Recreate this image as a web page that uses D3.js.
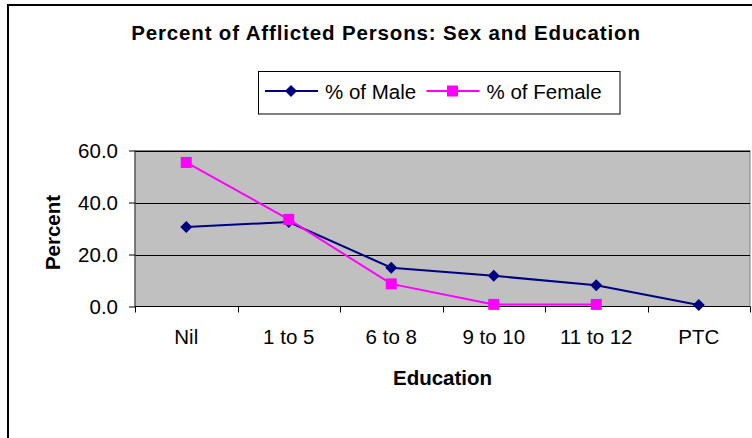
<!DOCTYPE html>
<html>
<head>
<meta charset="utf-8">
<script src="https://cdn.jsdelivr.net/npm/d3@7"></script>
<style>
  body { margin: 0; background: #fff; }
  text { font-family: "Liberation Sans", Arial, sans-serif; }
</style>
</head>
<body>
<div id="chart"></div>
<script>
const categories = ["Nil", "1 to 5", "6 to 8", "9 to 10", "11 to 12", "PTC"];
const maleValues = [30.6, 32.5, 14.9, 11.8, 8.2, 0.6];
const femaleValues = [55.4, 33.5, 8.7, 0.8, 0.8, null];
const yTicks = [0, 20, 40, 60];
const seriesNames = ["% of Male", "% of Female"];

const SIZE = { width: 752, height: 438 };
const PLOT = { left: 135, right: 750, top: 150.5, bottom: 306.5 };
const FONT = 20.5;

const svg = d3.select("#chart").append("svg")
    .attr("width", SIZE.width)
    .attr("height", SIZE.height);

// outer chart border, runs off the right and bottom
svg.append("rect")
    .attr("x", 8).attr("y", 5)
    .attr("width", 800).attr("height", 500)
    .attr("fill", "#fff")
    .attr("stroke", "#000")
    .attr("stroke-width", 2);

const x = d3.scaleBand().domain(categories).range([PLOT.left, PLOT.right]);
const y = d3.scaleLinear().domain([0, 60]).range([PLOT.bottom, PLOT.top]);
const cx = c => x(c) + x.bandwidth() / 2;

svg.append("rect")
    .attr("x", PLOT.left).attr("y", PLOT.top)
    .attr("width", PLOT.right - PLOT.left).attr("height", PLOT.bottom - PLOT.top)
    .attr("fill", "#c0c0c0")
    .attr("stroke", "#808080")
    .attr("stroke-width", 1);

// gridlines
svg.append("g").selectAll("line").data(yTicks.filter(d => d > 0)).enter()
  .append("line")
    .attr("x1", PLOT.left).attr("x2", PLOT.right)
    .attr("y1", d => Math.round(y(d)) + 0.5).attr("y2", d => Math.round(y(d)) + 0.5)
    .attr("stroke", "#000").attr("stroke-width", 1);

// y axis
const yAxis = d3.axisLeft(y).tickValues(yTicks).tickFormat(d3.format(".1f")).tickSize(6).tickPadding(11);
const yG = svg.append("g").attr("transform", `translate(${PLOT.left},0)`).call(yAxis);
yG.select(".domain").attr("stroke", "#404040").attr("d", `M0,${PLOT.top}V${PLOT.bottom}`);
yG.selectAll(".tick line").attr("stroke", "#000");
yG.selectAll("text").attr("font-size", FONT).attr("fill", "#000").attr("dy", "0.35em")
    .style("font-family", "'Liberation Sans', Arial, sans-serif");

// x axis with boundary ticks
const xG = svg.append("g").attr("transform", `translate(0,${PLOT.bottom})`);
xG.append("line").attr("x1", PLOT.left).attr("x2", PLOT.right).attr("stroke", "#000");
const bounds = categories.map(c => x(c)).concat([PLOT.right]);
xG.selectAll(".bt").data(bounds).enter().append("line")
    .attr("x1", d => Math.round(d) + 0.5).attr("x2", d => Math.round(d) + 0.5)
    .attr("y1", 0).attr("y2", 6)
    .attr("stroke", "#000");
xG.selectAll(".lbl").data(categories).enter().append("text")
    .attr("x", cx)
    .attr("y", 37.5)
    .attr("text-anchor", "middle")
    .attr("font-size", FONT)
    .text(d => d);

// axis titles
svg.append("text")
    .attr("x", (PLOT.left + PLOT.right) / 2).attr("y", 385)
    .attr("text-anchor", "middle")
    .attr("font-size", FONT).attr("font-weight", "bold")
    .text("Education");
svg.append("text")
    .attr("transform", `translate(60,232.5) rotate(-90)`)
    .attr("text-anchor", "middle")
    .attr("font-size", FONT).attr("font-weight", "bold")
    .text("Percent");

// title
svg.append("text")
    .attr("x", 386).attr("y", 40)
    .attr("text-anchor", "middle")
    .attr("font-size", FONT).attr("font-weight", "bold")
    .attr("letter-spacing", 0.85)
    .text("Percent of Afflicted Persons: Sex and Education");

// markers
const diamond = r => `M0,${-r}L${r},0L0,${r}L${-r},0Z`;
const square = h => `M${-h},${-h}H${h}V${h}H${-h}Z`;
const series = [
  { name: seriesNames[0], values: maleValues, color: "#000080", marker: diamond(6) },
  { name: seriesNames[1], values: femaleValues, color: "#ff00ff", marker: square(5.5) },
];
const line = d3.line()
    .defined(d => d.v != null)
    .x(d => cx(d.c))
    .y(d => y(d.v));

series.forEach(s => {
  const pts = categories.map((c, i) => ({ c: c, v: s.values[i] }));
  svg.append("path")
      .attr("d", line(pts))
      .attr("fill", "none")
      .attr("stroke", s.color)
      .attr("stroke-width", 2);
  svg.append("g").selectAll("path").data(pts.filter(d => d.v != null)).enter()
    .append("path")
      .attr("d", s.marker)
      .attr("transform", d => `translate(${cx(d.c)},${y(d.v)})`)
      .attr("fill", s.color);
});

// legend
const legend = svg.append("g");
legend.append("rect")
    .attr("x", 258.5).attr("y", 71.5)
    .attr("width", 361.5).attr("height", 42.5)
    .attr("fill", "#fff").attr("stroke", "#000");
const legX = [265, 426.5];
series.forEach((s, i) => {
  const g = legend.append("g").attr("transform", `translate(${legX[i]},91)`);
  g.append("line").attr("x1", 0).attr("x2", 53).attr("stroke", s.color).attr("stroke-width", 2);
  g.append("path").attr("d", s.marker).attr("transform", "translate(26,0)").attr("fill", s.color);
  g.append("text").attr("x", 60).attr("y", 7.5).attr("font-size", FONT).text(s.name);
});
</script>
</body>
</html>
